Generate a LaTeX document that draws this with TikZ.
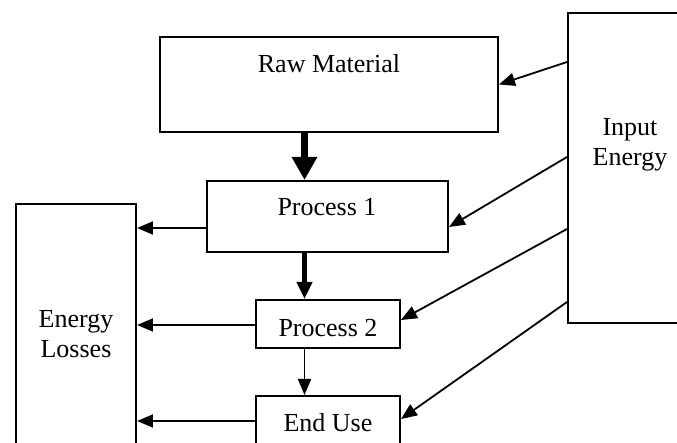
\documentclass[tikz,border=0pt]{standalone}
\usepackage{fontspec}
\setmainfont{Liberation Serif}
\usetikzlibrary{arrows.meta,positioning}

\begin{document}
\begin{tikzpicture}
    [x=0.5pt,y=-0.5pt,
     blk/.style={draw,line width=1pt,inner sep=0pt},
     lbl/.style={inner sep=0pt,align=center,font=\fontsize{13}{15}\selectfont},
     thin arrow/.style={-{Triangle[length=8pt,width=6.5pt]},line width=0.9pt},
     mid arrow/.style={-{Triangle[length=8.5pt,width=7.5pt]},line width=2.5pt},
     fat arrow/.style={-{Triangle[length=11.5pt,width=12pt]},line width=3.5pt}]
    \useasboundingbox (0,0) rectangle (677,443);
    \clip (0,0) rectangle (677,443);

    % boxes
    \node[blk,minimum width=169pt,minimum height=47.5pt] (raw) at (329,84.5) {};
    \node[blk,minimum width=62pt,minimum height=155pt] (input) at (630,168) {};
    \node[blk,minimum width=120.5pt,minimum height=35.5pt] (p1) at (327.5,216.5) {};
    \node[blk,minimum width=72pt,minimum height=24pt] (p2) at (328,324) {};
    \node[blk,minimum width=72pt,minimum height=37pt] (end) at (328,433) {};
    \node[blk,minimum width=60pt,minimum height=133pt] (losses) at (76,337) {};

    % texts
    \node[lbl,anchor=base] (rawtxt) at (329,73) {Raw Material};
    \node[lbl] (inputtxt) at (630,144.5) {Input\\Energy};
    \node[lbl,anchor=base] (p1txt) at (327,216) {Process 1};
    \node[lbl,anchor=base] (p2txt) at (328,337) {Process 2};
    \node[lbl,anchor=base] (endtxt) at (328,432) {End Use};
    \node[lbl] (lossestxt) at (76,334.5) {Energy\\Losses};

    % main flow
    \coordinate (spine) at (304.5,0);
    \draw[fat arrow] (raw.south -| spine) -- (p1.north -| spine);
    \draw[mid arrow] (p1.south -| spine) -- (p2.north -| spine);
    \draw[thin arrow] (p2.south -| spine) -- (end.north -| spine);

    % losses
    \draw[thin arrow] ([yshift=-5.75pt]p1.west) coordinate (l1) -- (l1 -| losses.east);
    \draw[thin arrow] ([yshift=-0.5pt]p2.west) coordinate (l2) -- (l2 -| losses.east);
    \draw[thin arrow] ([yshift=6pt]end.west) coordinate (l3) -- (l3 -| losses.east);

    % energy input
    \draw[thin arrow] ([yshift=53pt]input.west) -- (raw.east);
    \draw[thin arrow] ([yshift=5.5pt]input.west) -- ([yshift=-5.25pt]p1.east);
    \draw[thin arrow] ([yshift=-30.5pt]input.west) -- ([yshift=2pt]p2.east);
    \draw[thin arrow] ([yshift=-67pt]input.west) -- ([yshift=7pt]end.east);
\end{tikzpicture}
\end{document}
